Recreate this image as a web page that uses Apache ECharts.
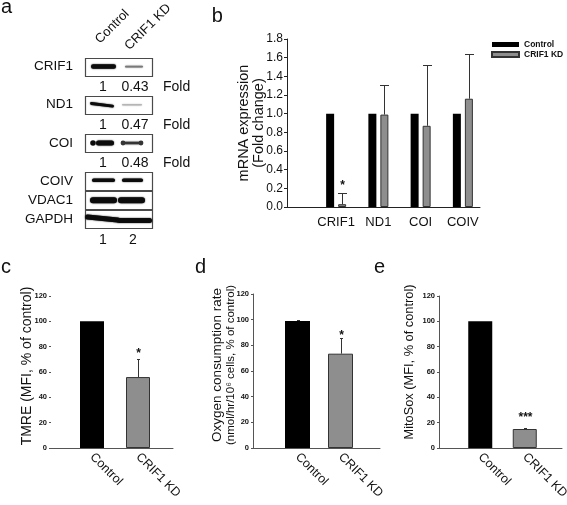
<!DOCTYPE html>
<html><head><meta charset="utf-8">
<script src="https://cdn.jsdelivr.net/npm/echarts@6/dist/echarts.min.js"></script>
<style>html,body{margin:0;padding:0;background:#fff;}#c{width:567px;height:505px;}</style>
</head><body><div id="c"></div>
<script>
// ---------- Panel a : western blot ----------
const blotProteins = ['CRIF1', 'ND1', 'COI', 'COIV', 'VDAC1', 'GAPDH'];
const blotSlots = ['CRIF1', 'fold:CRIF1', 'ND1', 'fold:ND1', 'COI', 'fold:COI', 'COIV', 'VDAC1', 'GAPDH'];
const laneLabels = ['1', '2', ''];
const laneHeaders = ['Control', 'CRIF1 KD'];
const controlLevel = [1, 1, 1, 1, 1, 1];
const kdLevel = [0.43, 0.47, 0.48, 1, 1, 1];
const foldRows = ['CRIF1', 'ND1', 'COI'];

// ---------- Panel b : mRNA expression ----------
const bCategories = ['CRIF1', 'ND1', 'COI', 'COIV'];
const bControl = [1.0, 1.0, 1.0, 1.0];
const bKD = [0.03, 0.99, 0.87, 1.16];
const bKDErrTop = [0.15, 1.31, 1.52, 1.64];
const bSig = ['*', '', '', ''];
const bTickLabels = ['0.0', '0.2', '0.4', '0.6', '0.8', '1.0', '1.2', '1.4', '1.6', '1.8'];

// ---------- Panels c, d, e ----------
const groupLabels = ['Control', 'CRIF1 KD'];
const cValues = [100, 56];
const cErrTop = [null, 70];
const cSig = ['', '*'];
const dValues = [99, 73.5];
const dErrTop = [100, 86];
const dSig = ['', '*'];
const eValues = [100, 15];
const eErrTop = [null, 16];
const eSig = ['', '***'];
const pctTickLabels = ['0', '20', '40', '60', '80', '100', '120'];

// ---------- styles ----------
const FONT = '"Liberation Sans", Arial, Helvetica, sans-serif';
const INK = '#111';
const CTRL_FILL = '#000';
const KD_FILL = '#8e8e8e';
const KD_EDGE = '#333';
const AX = '#555';

// blot band appearance (style only)
const boxPad = [18, 19];
const bandDx = [[0.5, 1], [-1, -1], [2, -1], [0.5, -0.5], [0.5, -1.5], [-0.5, 1.5]];
const bandDy = [[0, 0], [0, 0], [0, 0], [-1, -1], [0, 0], [-1, 1]];
const bandW = [[25, 18], [24, 20], [18, 20], [23, 21], [27, 27], [35, 35]];
const bandT = [[4.5, 1.8], [2.8, 1.6], [5, 2.5], [3.5, 3.5], [6, 6], [5, 5]];
const bandTilt = [[0, 0], [-0.12, 0], [0, 0], [0, 0], [0, 0], [-0.1, 0]];
const bandTone = [0.75, 1.25, 0.3, 1, 1, 1];
const bandKnobs = [[[], []], [[], []], [[[-12, 2.8]], [[-9, 2.4], [9, 2.4]]], [[], []], [[], []], [[], []]];

const grids = [
  {left: 88, top: 57, width: 90, height: 172},    // 0 blot
  {left: 287, top: 39, width: 193, height: 168},  // 1 b frame
  {left: 315, top: 39, width: 169, height: 168},  // 2 b bars
  {left: 51, top: 296, width: 122, height: 152},  // 3 c frame
  {left: 69, top: 296, width: 92, height: 152},   // 4 c bars
  {left: 253, top: 294, width: 127, height: 154}, // 5 d frame
  {left: 276, top: 294, width: 86, height: 154},  // 6 d bars
  {left: 439, top: 296, width: 123, height: 152}, // 7 e frame
  {left: 458, top: 296, width: 89, height: 152}   // 8 e bars
].map(g => Object.assign({outerBoundsMode: 'none', containLabel: false}, g));

const xAxis = [], yAxis = [];
// blot axes
xAxis.push({gridIndex: 0, type: 'category', data: laneLabels, axisLine: {show: false}, axisTick: {show: false},
  axisLabel: {interval: 0, fontSize: 14, color: INK, margin: 4, fontFamily: FONT}, splitLine: {show: false}});
yAxis.push({gridIndex: 0, type: 'category', data: blotSlots, inverse: true, axisLine: {show: false}, axisTick: {show: false},
  axisLabel: {interval: 0, fontSize: 13.5, color: INK, margin: 15, fontFamily: FONT,
    formatter: v => v.indexOf('fold:') === 0 ? '' : v}, splitLine: {show: false}});

function frameAxes(gi, max, interval, labels, o) {
  xAxis.push({gridIndex: gi, type: 'category', data: [''], axisLine: {show: true, lineStyle: {color: o.color, width: 1}},
    axisTick: {show: false}, axisLabel: {show: false}, splitLine: {show: false}});
  yAxis.push({gridIndex: gi, type: 'value', min: 0, max: max, interval: interval,
    axisLine: {show: o.yLine, lineStyle: {color: o.color, width: 1}},
    axisTick: {show: true, length: o.tick, lineStyle: {color: o.color}},
    axisLabel: {fontSize: o.fs, fontWeight: o.fw, color: INK, margin: o.margin, fontFamily: FONT,
      formatter: v => labels[Math.round(v / interval)]},
    splitLine: {show: false}});
}
function barAxes(gi, cats, max, o) {
  xAxis.push({gridIndex: gi, type: 'category', data: cats, axisLine: {show: false}, axisTick: {show: false},
    axisLabel: {interval: 0, rotate: o.rotate, fontSize: o.fs, color: INK, margin: o.margin, fontFamily: FONT},
    splitLine: {show: false}});
  yAxis.push({gridIndex: gi, type: 'value', min: 0, max: max, show: false});
}

// axes b
frameAxes(1, 1.8, 0.2, bTickLabels, {color: '#222', yLine: true, tick: 3, fs: 12, fw: 'normal', margin: 4});
barAxes(2, bCategories, 1.8, {rotate: 0, fs: 13, margin: 9});
// axes c
frameAxes(3, 120, 20, pctTickLabels, {color: AX, yLine: false, tick: 2, fs: 7.5, fw: 'bold', margin: 4});
barAxes(4, groupLabels, 120, {rotate: -45, fs: 12.5, margin: 7});
// axes d
frameAxes(5, 120, 20, pctTickLabels, {color: AX, yLine: true, tick: 2, fs: 7.5, fw: 'bold', margin: 4});
barAxes(6, groupLabels, 120, {rotate: -45, fs: 12.5, margin: 7});
// axes e
frameAxes(7, 120, 20, pctTickLabels, {color: AX, yLine: true, tick: 2, fs: 7.5, fw: 'bold', margin: 4});
barAxes(8, groupLabels, 120, {rotate: -45, fs: 12.5, margin: 7});

function txtStyle(text, fs, fw, align, valign, extra) {
  return Object.assign({text: text, fill: INK, fontSize: fs, fontWeight: fw || 'normal', fontFamily: FONT,
    align: align, textAlign: align, verticalAlign: valign, textVerticalAlign: valign}, extra || {});
}

function errorSeries(gi, values, errTop, sig, o) {
  const data = [];
  values.forEach((v, i) => { if (errTop[i] != null) data.push([i, errTop[i], v, i]); });
  return {
    type: 'custom', xAxisIndex: gi, yAxisIndex: gi, z: 5, silent: true, encode: {x: 0, y: 1}, data: data,
    renderItem: function (params, api) {
      const cat = api.value(0), top = api.value(1), base = api.value(2), idx = api.value(3);
      const pb = api.coord([cat, base]), pt = api.coord([cat, top]);
      const x = Math.round(pb[0] + o.dx) + 0.5;
      const yt = Math.round(pt[1]) + 0.5;
      const ch = [
        {type: 'line', shape: {x1: x, y1: pb[1], x2: x, y2: yt}, style: {stroke: o.color, lineWidth: 1}},
        {type: 'line', shape: {x1: x - o.cap / 2, y1: yt, x2: x + o.cap / 2, y2: yt}, style: {stroke: o.color, lineWidth: 1}}
      ];
      if (sig[idx]) ch.push({type: 'text', x: x, y: yt - o.sigGap, style: txtStyle(sig[idx], o.sigSize, 'bold', 'center', 'middle')});
      return {type: 'group', children: ch};
    }
  };
}

function singleBars(gi, values, bw) {
  return {type: 'bar', name: 'bars' + gi, xAxisIndex: gi, yAxisIndex: gi, barWidth: bw, silent: true,
    data: values.map((v, i) => ({value: v, itemStyle: i === 0 ? {color: CTRL_FILL} : {color: KD_FILL, borderColor: KD_EDGE, borderWidth: 1}}))};
}

const series = [];
// blot boxes
series.push({
  type: 'custom', xAxisIndex: 0, yAxisIndex: 0, z: 2, silent: true, encode: {x: 0, y: 1},
  data: blotProteins.map(p => [0, blotSlots.indexOf(p)]),
  renderItem: function (params, api) {
    const slot = api.value(1);
    const p0 = api.coord([0, slot]), p1 = api.coord([1, slot]);
    const h = api.size([0, 1])[1] * 0.94;
    const x0 = p0[0] - boxPad[0], x1 = p1[0] + boxPad[1];
    return {type: 'rect', shape: {x: Math.round(x0) + 0.5, y: Math.round(p0[1] - h / 2) + 0.5, width: Math.round(x1 - x0), height: Math.round(h)},
      style: {fill: '#fff', stroke: '#4a4a4a', lineWidth: 1.2}};
  }
});
// blot bands
const bandData = [];
blotProteins.forEach((p, r) => {
  const s = blotSlots.indexOf(p);
  bandData.push([0, s, controlLevel[r], r]);
  bandData.push([1, s, kdLevel[r], r]);
});
series.push({
  type: 'custom', xAxisIndex: 0, yAxisIndex: 0, z: 3, silent: true, encode: {x: 0, y: 1}, data: bandData,
  renderItem: function (params, api) {
    const lane = api.value(0), slot = api.value(1), level = api.value(2), row = api.value(3);
    const p = api.coord([lane, slot]);
    const w = bandW[row][lane], t = bandT[row][lane];
    const g = Math.max(0, Math.min(230, Math.round(255 * (1 - level) * bandTone[row]) + 12));
    const col = 'rgb(' + g + ',' + g + ',' + g + ')';
    const ch = [{type: 'rect', shape: {x: -w / 2, y: -t / 2, width: w, height: t, r: t / 2},
      style: {fill: col, shadowBlur: 1.5, shadowColor: col}}];
    bandKnobs[row][lane].forEach(k => ch.push({type: 'circle', shape: {cx: k[0], cy: 0, r: k[1]}, style: {fill: col}}));
    return {type: 'group', x: p[0] + bandDx[row][lane], y: p[1] + bandDy[row][lane], rotation: bandTilt[row][lane], children: ch};
  }
});
// fold texts
const foldData = [], foldTexts = [];
foldRows.forEach(p => {
  const r = blotProteins.indexOf(p), s = blotSlots.indexOf('fold:' + p);
  foldData.push([0, s, foldTexts.length]); foldTexts.push(String(controlLevel[r]));
  foldData.push([1, s, foldTexts.length]); foldTexts.push(kdLevel[r].toFixed(2));
  foldData.push([2, s, foldTexts.length]); foldTexts.push('Fold');
});
series.push({
  type: 'custom', xAxisIndex: 0, yAxisIndex: 0, z: 3, silent: true, encode: {x: 0, y: 1}, data: foldData,
  renderItem: function (params, api) {
    const lane = api.value(0), slot = api.value(1), ti = api.value(2);
    const p = api.coord([lane, slot]);
    const align = lane === 2 ? 'left' : 'center';
    const dx = lane === 1 ? 2 : 0;
    return {type: 'text', x: p[0] + dx, y: p[1] + 1, style: txtStyle(foldTexts[ti], 14, 'normal', align, 'middle')};
  }
});

// panel b bars
series.push({type: 'bar', name: 'Control', xAxisIndex: 2, yAxisIndex: 2, barWidth: 8, barGap: '50%', silent: true,
  itemStyle: {color: CTRL_FILL}, data: bControl});
series.push({type: 'bar', name: 'CRIF1 KD', xAxisIndex: 2, yAxisIndex: 2, barWidth: 8, barGap: '50%', silent: true,
  itemStyle: {color: KD_FILL, borderColor: KD_EDGE, borderWidth: 1}, data: bKD});
series.push(errorSeries(2, bKD, bKDErrTop, bSig, {dx: 6, cap: 9, color: '#333', sigGap: 8, sigSize: 12}));

// panel c, d, e
series.push(singleBars(4, cValues, 24));
series.push(errorSeries(4, cValues, cErrTop, cSig, {dx: 0, cap: 3, color: '#333', sigGap: 6, sigSize: 12}));
series.push(singleBars(6, dValues, 25));
series.push(errorSeries(6, dValues, dErrTop, dSig, {dx: 0, cap: 3, color: '#333', sigGap: 2.5, sigSize: 12}));
series.push(singleBars(8, eValues, 24));
series.push(errorSeries(8, eValues, eErrTop, eSig, {dx: 0, cap: 3, color: '#333', sigGap: 10.5, sigSize: 12}));

function gText(text, x, y, fs, rot, align, valign, extra) {
  return {type: 'text', x: x, y: y, rotation: rot || 0, silent: true, style: txtStyle(text, fs, 'normal', align || 'left', valign || 'middle', extra)};
}
function richTitle(lines, x, y, sizes, lh) {
  const rich = {};
  sizes.forEach((s, i) => { rich['l' + i] = {fontSize: s, fontFamily: FONT, fill: INK, lineHeight: lh}; });
  return {type: 'text', x: x, y: y, rotation: Math.PI / 2, silent: true,
    style: {text: lines.map((t, i) => '{l' + i + '|' + t + '}').join('\n'), fill: INK, fontFamily: FONT,
      align: 'center', textAlign: 'center', verticalAlign: 'middle', textVerticalAlign: 'middle', rich: rich}};
}
const graphic = [
  gText('a', 1, 7.3, 20),
  gText('b', 211.7, 16.8, 20),
  gText('c', 1, 267.8, 20),
  gText('d', 195, 267.8, 20),
  gText('e', 374, 267.8, 20),
  gText(laneHeaders[0], 97.5, 41.5, 13, Math.PI / 4, 'left', 'middle'),
  gText(laneHeaders[1], 127, 48, 13, Math.PI / 4, 'left', 'middle'),
  richTitle(['mRNA expression', '(Fold change)'], 251.5, 123, [14.5, 14.5], 15.5),
  gText('TMRE (MFI, % of control)', 27, 366, 14, Math.PI / 2, 'center', 'middle'),
  richTitle(['Oxygen consumption rate', '(nmol/hr/10⁶ cells, % of control)'], 224, 365, [13.5, 11.5], 14),
  gText('MitoSox (MFI, % of control)', 409, 362, 12.8, Math.PI / 2, 'center', 'middle')
];

const option = {
  animation: false,
  backgroundColor: '#fff',
  textStyle: {fontFamily: FONT},
  grid: grids,
  xAxis: xAxis,
  yAxis: yAxis,
  legend: {data: ['Control', 'CRIF1 KD'], left: 491, top: 40, orient: 'vertical', icon: 'rect',
    itemWidth: 27, itemHeight: 5, itemGap: 1, padding: 0, selectedMode: false,
    textStyle: {fontSize: 8.5, fontWeight: 'bold', color: INK, fontFamily: FONT, lineHeight: 9}},
  series: series,
  graphic: graphic
};
const chart = echarts.init(document.getElementById('c'), null, {renderer: 'canvas', width: 567, height: 505});
chart.setOption(option);
</script></body></html>
